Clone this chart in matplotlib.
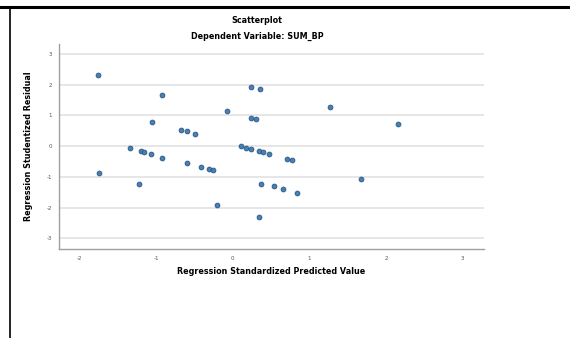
import numpy as np
import matplotlib.pyplot as plt
from matplotlib.lines import Line2D

# standardized predicted values and studentized residuals
pred = [-1.76, -0.92, -1.05, 0.24, 0.35, -0.07, 0.24, 0.30, -0.67, -0.60,
        -0.50, 0.11, 0.17, 0.24, 0.34, 0.40, 0.47, -1.34, -1.20, -1.16,
        -1.07, -0.92, -1.75, -1.22, -0.60, -0.42, -0.31, -0.26, -0.20, 0.34,
        0.37, 1.27, 2.16, 0.71, 0.77, 1.68, 0.54, 0.66, 0.84]
resid = [2.32, 1.66, 0.77, 1.92, 1.85, 1.14, 0.91, 0.88, 0.51, 0.48,
         0.38, -0.01, -0.05, -0.09, -0.15, -0.20, -0.25, -0.07, -0.16, -0.19,
         -0.25, -0.38, -0.86, -1.24, -0.56, -0.68, -0.73, -0.77, -1.93, -2.32,
         -1.23, 1.28, 0.71, -0.42, -0.45, -1.06, -1.29, -1.38, -1.53]

xticks = [-2, -1, 0, 1, 2, 3]
yticks = [-3, -2, -1, 0, 1, 2, 3]

fig = plt.figure(figsize=(5.7, 3.38), dpi=100)
ax = fig.add_axes([0.1035, 0.263, 0.7455, 0.607])

ax.scatter(pred, resid, s=12, color='#4581b5', edgecolors='#2a5680',
           linewidths=0.6, zorder=3)

ax.set_xlim(-2.27, 3.28)
ax.set_ylim(-3.35, 3.32)
ax.set_xticks(xticks)
ax.set_yticks(yticks)
ax.set_xticklabels([str(t) for t in xticks])
ax.set_yticklabels([str(t) for t in yticks])
ax.tick_params(length=0, labelsize=4, colors='#555555', pad=5)

ax.yaxis.grid(True, color='#e2e2e2', lw=1.2)
ax.set_axisbelow(True)
for s in ['top', 'right']:
    ax.spines[s].set_visible(False)
for s in ['left', 'bottom']:
    ax.spines[s].set_color('#a0a0a0')
    ax.spines[s].set_linewidth(1.0)

ax.set_xlabel('Regression Standardized Predicted Value', fontsize=5.8,
              fontweight='bold', labelpad=4)
ax.set_ylabel('Regression Studentized Residual', fontsize=5.8,
              fontweight='bold', labelpad=10)

fig.text(0.451, 0.94, 'Scatterplot', ha='center', va='center',
         fontsize=5.8, fontweight='bold')
fig.text(0.451, 0.891, 'Dependent Variable: SUM_BP', ha='center', va='center',
         fontsize=5.8, fontweight='bold')

# table-cell borders around the output
fig.add_artist(Line2D([0, 1], [0.98, 0.98], color='black', lw=2.2,
                      transform=fig.transFigure))
fig.add_artist(Line2D([0.0175, 0.0175], [0, 0.98], color='black', lw=1.2,
                      transform=fig.transFigure))

plt.savefig('out.png', dpi=100)
plt.close('all')
